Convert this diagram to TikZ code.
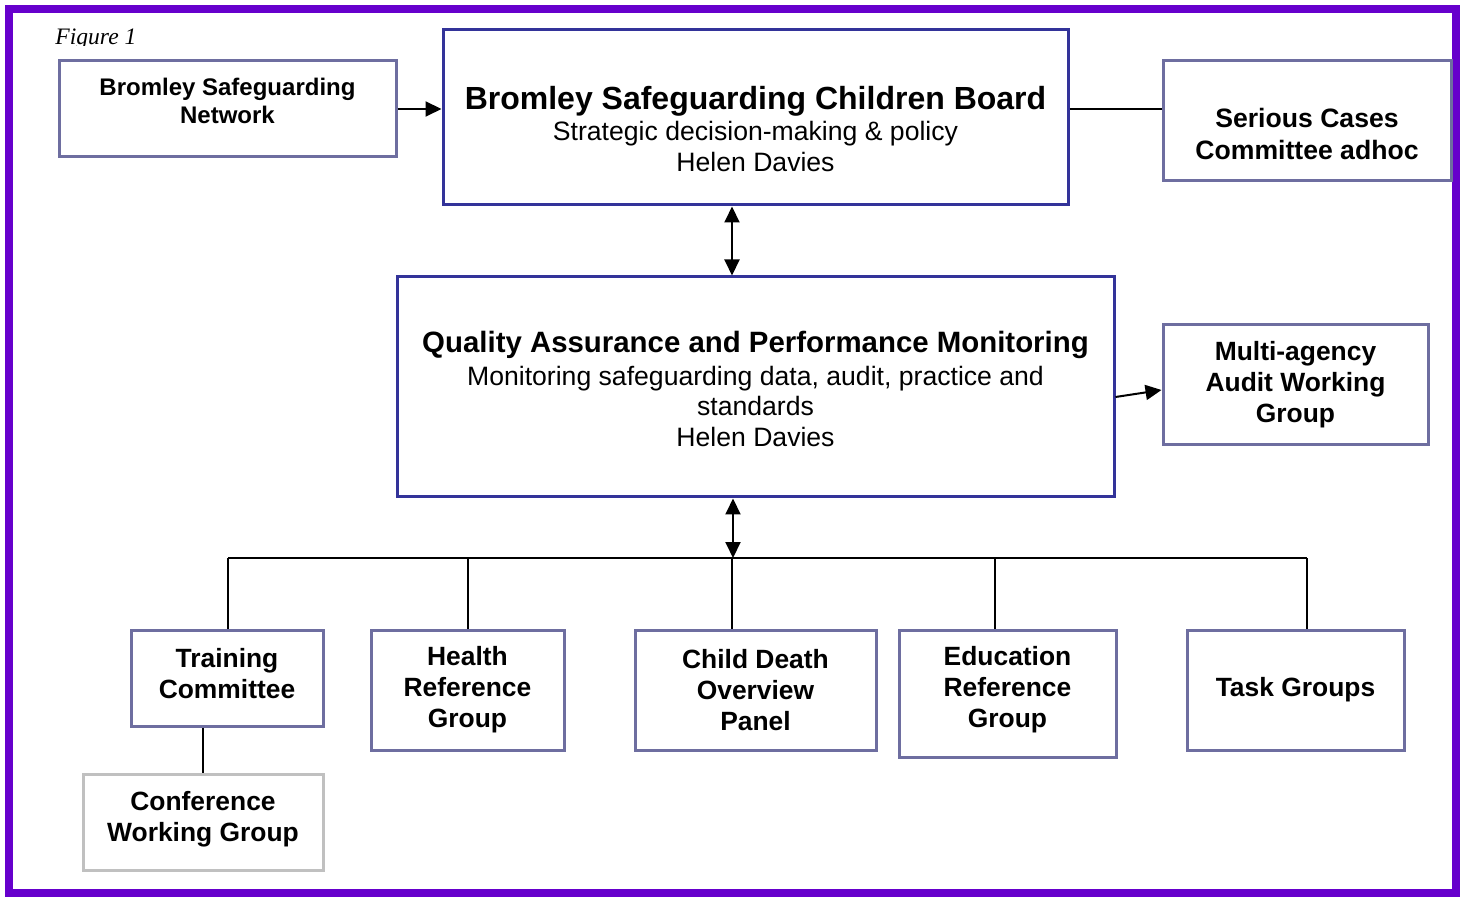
\documentclass[tikz,border=0pt]{standalone}
\usepackage{fontspec}
\setmainfont{Liberation Sans}
\newfontfamily\figfont{Liberation Serif}
\usetikzlibrary{positioning,arrows.meta}
\definecolor{framepurple}{RGB}{102,0,204}
\definecolor{boardblue}{RGB}{51,51,153}
\definecolor{boxgray}{RGB}{110,110,160}
\definecolor{confgray}{RGB}{192,192,192}
\begin{document}
\begin{tikzpicture}[
	x=0.5pt, y=-0.5pt,
	box/.style={draw=#1, line width=1.5pt, rectangle, align=center, inner sep=0pt},
	box/.default=boxgray,
	txt/.style={align=center, inner sep=0pt},
	big/.style={font=\fontsize{13.2}{15.5}\selectfont\bfseries},
	link/.style={line width=1pt},
	arr/.style={line width=1pt, -{Triangle[length=8pt,width=7.5pt]}},
	darr/.style={line width=1pt, {Triangle[length=8pt,width=7.5pt]}-{Triangle[length=8pt,width=7.5pt]}}
	]
	\useasboundingbox (0,0) rectangle (1466,897);
	\draw[framepurple, line width=4pt] (9,9) rectangle (1456,893);
	\begin{scope}
		\clip (40,20) rectangle (200,46);
		\node[txt, anchor=base west, font=\figfont\itshape\fontsize{11.8}{13}\selectfont] (fig) at (55,45) {Figure 1};
	\end{scope}

	% Top row
	\node[box, minimum width=168.5pt, minimum height=48pt] (network) at (227.5,109) {};
	\node[txt, font=\fontsize{12}{14}\selectfont\bfseries] (nettxt) at (227.5,101) {Bromley Safeguarding\\Network};
	\node[box=boardblue, minimum width=312.5pt, minimum height=87.5pt] (board) at (755.5,117.5) {};
	\node[txt, font=\fontsize{13.3}{15.5}\selectfont] (boardtxt) at (755.5,129)
		{{\fontsize{16}{18}\selectfont\bfseries Bromley Safeguarding Children Board}\\
		Strategic decision-making \& policy\\Helen Davies};
	\node[box, minimum width=144pt, minimum height=60pt] (serious) at (1307,121) {};
	\node[txt, font=\fontsize{13.3}{16}\selectfont\bfseries] (sertxt) at (1307,134) {Serious Cases\\Committee adhoc};

	% Middle row
	\node[box=boardblue, minimum width=358.5pt, minimum height=110pt] (qa) at (755.5,387) {};
	\node[txt, font=\fontsize{13.3}{15.3}\selectfont] (qatxt) at (755.5,389)
		{{\fontsize{14.7}{17}\selectfont\bfseries Quality Assurance and Performance Monitoring}\\[1pt]
		Monitoring safeguarding data, audit, practice and\\standards\\Helen Davies};
	\node[box, big, minimum width=132.5pt, minimum height=60pt] (multi) at (1295.5,385) {Multi-agency\\Audit Working\\Group};

	% Bottom row
	\node[box, minimum width=96pt, minimum height=48pt] (training) at (227,678) {};
	\node[txt, big] (traintxt) at (227,674) {Training\\Committee};
	\node[box, big, minimum width=96.5pt, minimum height=60pt] (health) at (467.5,690) {Health\\Reference\\Group};
	\node[box, big, minimum width=120.5pt, minimum height=60pt] (child) at (755.5,690) {Child Death\\Overview\\Panel};
	\node[box, minimum width=108.5pt, minimum height=63.5pt] (edu) at (1007.5,693.5) {};
	\node[txt, big] (edutxt) at (1007.5,690) {Education\\Reference\\Group};
	\node[box, big, minimum width=108.5pt, minimum height=60pt] (task) at (1295.5,690) {Task Groups};
	\node[box=confgray, minimum width=120pt, minimum height=48pt] (conf) at (203,822) {};
	\node[txt, big] (conftxt) at (203,819) {Conference\\Working Group};

	% Connectors
	\draw[arr] (network.east) -- (network.east -| board.west);
	\draw[link] (network.east -| board.east) -- (network.east -| serious.west);
	\coordinate (bq) at (732,0);
	\draw[darr] (board.south -| bq) -- (qa.north -| bq);
	\draw[arr] ([yshift=-5pt]qa.east) -- ([yshift=-2.5pt]multi.west);
	\coordinate (bus) at (733,558);
	\draw[darr] (qa.south -| bus) -- (bus);
	\foreach \n/\x in {training/228, health/468, child/732, edu/995, task/1307} {
		\coordinate (d\n) at (\x,558);
		\draw[link] (d\n) -- (d\n |- \n.north);
	}
	\draw[link] (dtraining) -- (dtask);
	\draw[link] (training.south -| conf.north) -- (conf.north);
\end{tikzpicture}
\end{document}
